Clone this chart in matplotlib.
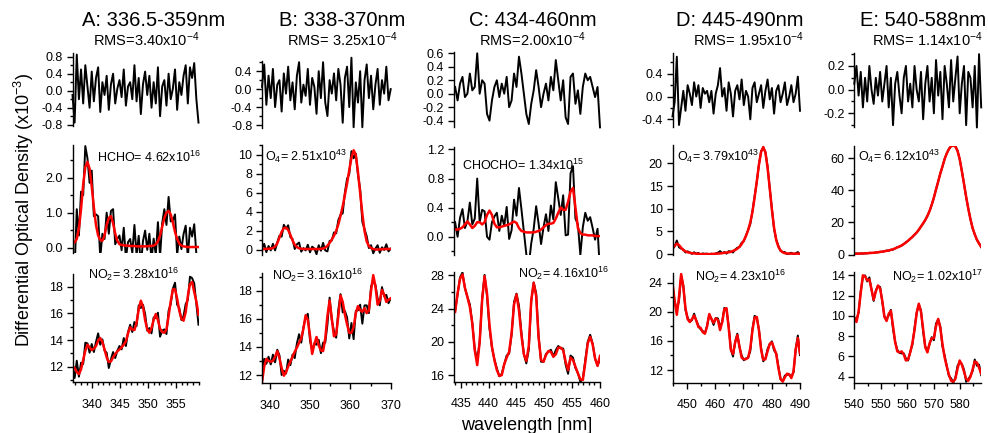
import numpy as np
import matplotlib
matplotlib.use("Agg")
import matplotlib.pyplot as plt
from matplotlib.ticker import MultipleLocator, FormatStrFormatter, NullLocator

plt.rcParams['font.family'] = ['Liberation Sans', 'DejaVu Sans']
plt.rcParams['mathtext.fontset'] = 'custom'
plt.rcParams['mathtext.rm'] = 'Liberation Sans'
plt.rcParams['mathtext.it'] = 'Liberation Sans:italic'
plt.rcParams['mathtext.bf'] = 'Liberation Sans:bold'
plt.rcParams['axes.unicode_minus'] = False

# ---- fit windows (nm) ----
wl_a = np.linspace(336.5, 359.0, 60)
wl_b = np.linspace(338.0, 370.0, 60)
wl_c = np.linspace(434.0, 460.0, 60)
wl_d = np.linspace(445.0, 490.0, 60)
wl_e = np.linspace(540.0, 588.0, 60)

# ---- residuals (x1e-3) ----
resid_a = np.array([
    -0.10, -0.75, 0.85, -0.20, 0.50, -0.30, 0.60, 0.10, -0.40, 0.45,
    -0.25, 0.30, 0.55, -0.50, 0.20, -0.10, 0.35, -0.45, 0.15, 0.40,
    -0.30, 0.05, 0.25, -0.15, 0.50, -0.35, 0.10, 0.20, -0.20, 0.60,
    -0.25, 0.30, -0.55, 0.15, 0.45, -0.10, 0.35, -0.40, 0.20, -0.30,
    0.55, -0.60, 0.10, 0.25, -0.35, 0.40, -0.20, 0.05, 0.50, -0.45,
    0.20, -0.10, 0.35, 0.60, -0.30, 0.55, 0.30, 0.65, -0.20, -0.75])
resid_b = np.array([
    0.05, 0.55, -0.35, 0.30, -0.20, 0.45, -0.40, 0.10, 0.20, -0.50,
    0.35, -0.10, 0.50, -0.25, 0.15, -0.45, 0.30, 0.60, -0.30, 0.10,
    -0.15, 0.45, -0.35, 0.25, 0.05, -0.55, 0.40, -0.20, 0.60, -0.30,
    -0.60, 0.20, -0.10, 0.35, -0.25, 0.45, 0.10, -0.75, 0.25, 0.50,
    -0.40, 0.70, -0.85, 0.15, -0.30, 0.40, -0.85, 0.20, 0.55, -0.20,
    0.30, -0.45, 0.10, 0.45, -0.35, 0.20, -0.10, 0.50, -0.25, 0.00])
resid_c = np.array([
    0.10, -0.10, 0.15, 0.25, -0.05, 0.00, 0.30, 0.05, 0.10, 0.60,
    0.00, 0.20, 0.15, -0.30, -0.40, -0.10, 0.10, 0.20, -0.05, 0.15,
    0.00, 0.25, -0.20, -0.10, 0.30, 0.10, 0.55, 0.30, 0.00, -0.30,
    -0.45, -0.15, 0.05, 0.35, 0.10, -0.20, 0.00, 0.15, -0.10, 0.25,
    0.05, 0.50, 0.20, -0.10, 0.20, -0.35, -0.45, 0.25, 0.30, -0.15,
    0.05, -0.30, 0.10, 0.30, 0.20, 0.25, 0.10, -0.05, 0.10, -0.50])
resid_d = np.array([
    -0.35, -0.10, 0.70, -0.50, -0.20, 0.10, -0.25, 0.20, 0.05, -0.15,
    0.25, 0.00, 0.20, -0.20, 0.15, 0.05, 0.10, -0.10, 0.10, -0.30,
    0.05, 0.20, 0.50, 0.00, 0.15, -0.25, 0.25, 0.05, -0.35, 0.10,
    0.20, -0.05, 0.30, -0.15, 0.10, 0.00, -0.40, 0.15, 0.25, -0.10,
    0.05, 0.20, -0.20, 0.10, 0.30, -0.05, 0.15, -0.30, 0.10, 0.20,
    -0.10, 0.05, 0.25, -0.15, 0.00, 0.20, -0.10, 0.05, 0.35, -0.25])
resid_e = np.array([
    0.05, 0.20, -0.05, 0.15, -0.15, 0.10, -0.10, 0.20, 0.00, -0.12,
    0.10, -0.05, 0.15, -0.10, 0.05, 0.20, -0.15, 0.10, -0.30, 0.05,
    0.15, -0.05, -0.20, 0.10, 0.20, -0.10, 0.05, -0.15, 0.20, 0.00,
    -0.10, 0.15, -0.25, 0.05, 0.20, -0.10, 0.10, -0.20, 0.25, -0.05,
    0.15, -0.25, 0.20, 0.05, -0.15, 0.25, -0.10, 0.10, 0.28, -0.20,
    0.05, 0.20, -0.30, 0.15, 0.10, -0.15, 0.20, -0.32, 0.30, -0.15])

# ---- fitted absorber contributions (x1e-3) ----
fit_a_hcho = np.array([
    0.12, 0.15, 0.25, 0.55, 1.10, 1.80, 2.30, 2.45, 2.25, 1.75,
    1.15, 0.65, 0.35, 0.22, 0.20, 0.35, 0.65, 0.85, 0.90, 0.70,
    0.40, 0.20, 0.10, 0.08, 0.07, 0.06, 0.06, 0.05, 0.05, 0.05,
    0.04, 0.04, 0.04, 0.04, 0.04, 0.04, 0.05, 0.05, 0.06, 0.10,
    0.18, 0.35, 0.60, 0.85, 1.00, 1.05, 0.95, 0.72, 0.45, 0.25,
    0.12, 0.06, 0.04, 0.03, 0.02, 0.02, 0.02, 0.02, 0.02, 0.02])
fit_a_no2 = np.array([
    12.05, 11.90, 11.60, 11.45, 11.80, 12.50, 13.20, 13.65, 13.45, 13.25,
    13.35, 13.55, 13.95, 14.15, 13.85, 13.30, 12.70, 12.35, 12.40, 12.70,
    12.95, 13.15, 13.30, 13.45, 13.65, 13.90, 14.50, 14.95, 14.80, 14.75,
    15.30, 16.30, 16.95, 16.50, 15.50, 14.80, 14.55, 14.90, 15.50, 15.95,
    15.50, 14.85, 14.60, 14.55, 14.80, 15.80, 16.90, 17.80, 17.80, 17.10,
    16.20, 15.60, 15.45, 16.10, 17.30, 18.20, 18.35, 17.60, 16.90, 15.90])
fit_b_o4 = np.array([
    0.10, 0.10, 0.12, 0.12, 0.15, 0.20, 0.35, 0.70, 1.30, 1.90,
    2.30, 2.35, 2.10, 1.60, 1.00, 0.55, 0.30, 0.18, 0.12, 0.10,
    0.10, 0.10, 0.10, 0.10, 0.10, 0.10, 0.10, 0.12, 0.15, 0.25,
    0.45, 0.75, 1.10, 1.50, 2.00, 2.70, 3.60, 4.60, 5.80, 7.00,
    8.40, 9.70, 10.50, 10.00, 8.20, 6.00, 3.80, 2.00, 0.90, 0.40,
    0.20, 0.10, 0.05, 0.05, 0.05, 0.08, 0.10, 0.10, 0.10, 0.12])
fit_b_no2 = np.array([
    11.50, 12.60, 13.15, 13.00, 12.95, 13.00, 13.30, 13.70, 13.20, 12.50,
    11.95, 12.20, 12.60, 12.95, 13.30, 13.65, 13.95, 14.30, 14.60, 15.30,
    16.25, 15.90, 14.80, 13.50, 14.20, 14.70, 14.10, 13.75, 13.70, 14.60,
    16.20, 17.30, 16.00, 14.75, 14.90, 16.20, 17.65, 17.20, 16.30, 15.60,
    15.00, 15.00, 15.40, 16.40, 16.90, 16.60, 16.50, 16.75, 16.40, 16.60,
    18.00, 19.10, 18.30, 17.00, 17.30, 18.05, 17.70, 17.20, 17.35, 17.45])
fit_c_glyoxal = np.array([
    0.10, 0.10, 0.11, 0.13, 0.17, 0.21, 0.17, 0.12, 0.15, 0.20,
    0.20, 0.17, 0.20, 0.30, 0.36, 0.30, 0.18, 0.13, 0.13, 0.14,
    0.15, 0.16, 0.17, 0.19, 0.21, 0.19, 0.12, 0.08, 0.07, 0.06,
    0.06, 0.06, 0.06, 0.07, 0.08, 0.10, 0.13, 0.16, 0.18, 0.18,
    0.19, 0.25, 0.33, 0.40, 0.37, 0.37, 0.48, 0.62, 0.67, 0.40,
    0.12, 0.05, 0.03, 0.03, 0.02, 0.02, 0.02, 0.01, 0.01, 0.01])
fit_c_no2 = np.array([
    23.6, 25.8, 27.6, 28.1, 26.5, 25.4, 24.2, 22.2, 19.0, 17.2,
    20.0, 25.0, 27.9, 25.8, 22.0, 19.4, 17.8, 16.6, 15.9, 16.0,
    17.3, 18.1, 18.8, 21.0, 24.5, 25.7, 23.8, 20.8, 18.5, 17.7,
    19.5, 25.0, 27.1, 25.5, 20.5, 17.8, 17.6, 18.4, 18.9, 18.8,
    18.2, 18.5, 19.3, 19.3, 19.0, 17.6, 16.6, 18.1, 17.8, 17.0,
    16.2, 15.5, 15.4, 17.5, 19.8, 20.6, 19.7, 18.0, 17.1, 18.3])
fit_d_o4 = np.array([
    1.4, 1.8, 2.3, 2.0, 1.4, 0.9, 0.6, 0.4, 0.3, 0.2,
    0.15, 0.1, 0.05, 0.0, 0.0, 0.0, 0.0, 0.0, 0.0, 0.05,
    0.1, 0.1, 0.15, 0.2, 0.3, 0.35, 0.4, 0.5, 0.7, 0.9,
    1.2, 1.6, 2.2, 3.0, 4.0, 5.3, 7.0, 9.3, 12.5, 16.0,
    19.7, 22.5, 23.6, 22.4, 19.0, 14.5, 9.8, 5.8, 3.1, 1.6,
    0.8, 0.4, 0.2, 0.15, 0.1, 0.1, 0.1, 0.1, 0.1, 0.1])
fit_d_no2 = np.array([
    24.0, 21.5, 19.6, 22.0, 25.2, 23.5, 20.5, 19.0, 18.6, 19.0,
    19.5, 18.8, 17.9, 17.8, 17.2, 17.0, 18.0, 19.7, 19.0, 18.5,
    19.1, 18.9, 17.5, 18.6, 20.4, 20.5, 17.8, 14.8, 14.2, 15.8,
    16.8, 15.2, 13.7, 13.5, 13.5, 13.7, 15.0, 17.5, 19.2, 19.3,
    17.5, 14.8, 13.4, 13.5, 14.6, 15.6, 15.8, 15.0, 14.2, 12.3,
    10.8, 10.4, 11.0, 11.5, 11.4, 10.9, 11.8, 14.8, 16.4, 14.3])
fit_e_o4 = np.array([
    0.5, 0.5, 0.55, 0.6, 0.65, 0.7, 0.8, 0.9, 1.0, 1.1,
    1.25, 1.4, 1.6, 1.8, 2.0, 2.3, 2.5, 2.9, 3.3, 3.8,
    4.4, 5.0, 5.7, 6.5, 7.5, 8.6, 9.8, 11.0, 12.3, 13.7,
    15.5, 17.4, 19.5, 21.5, 24.0, 27.2, 31.0, 35.5, 40.5, 45.5,
    50.5, 55.0, 59.5, 63.0, 65.8, 67.4, 67.9, 67.3, 64.5, 59.5,
    52.0, 44.0, 36.0, 28.5, 22.0, 16.5, 12.5, 9.3, 6.8, 4.8])
fit_e_no2 = np.array([
    9.8, 9.4, 10.4, 12.3, 14.0, 13.9, 13.5, 13.6, 12.6, 11.6,
    12.4, 13.0, 12.7, 11.5, 9.9, 9.5, 10.2, 10.5, 9.0, 7.4,
    6.5, 6.4, 6.5, 6.2, 5.6, 5.7, 6.4, 7.3, 8.6, 10.3,
    11.2, 10.4, 8.7, 6.9, 6.4, 7.3, 7.8, 7.8, 9.0, 9.7,
    8.8, 7.2, 5.9, 5.0, 4.2, 3.6, 3.5, 3.8, 4.8, 5.6,
    5.2, 4.5, 3.8, 3.6, 4.0, 4.7, 5.5, 5.4, 4.9, 4.3])

titles = ["A: 336.5-359nm", "B: 338-370nm", "C: 434-460nm",
          "D: 445-490nm", "E: 540-588nm"]
rms_labels = [r"RMS=3.40x10$^{-4}$", r"RMS= 3.25x10$^{-4}$", r"RMS=2.00x10$^{-4}$",
              r"RMS= 1.95x10$^{-4}$", r"RMS= 1.14x10$^{-4}$"]
species_labels = [
    [r"HCHO= 4.62x10$^{16}$", r"NO$_2$= 3.28x10$^{16}$"],
    [r"O$_4$= 2.51x10$^{43}$", r"NO$_2$= 3.16x10$^{16}$"],
    [r"CHOCHO= 1.34x10$^{15}$", r"NO$_2$= 4.16x10$^{16}$"],
    [r"O$_4$= 3.79x10$^{43}$", r"NO$_2$= 4.23x10$^{16}$"],
    [r"O$_4$= 6.12x10$^{43}$", r"NO$_2$= 1.02x10$^{17}$"],
]

columns = [
    (wl_a, resid_a, [fit_a_hcho, fit_a_no2]),
    (wl_b, resid_b, [fit_b_o4, fit_b_no2]),
    (wl_c, resid_c, [fit_c_glyoxal, fit_c_no2]),
    (wl_d, resid_d, [fit_d_o4, fit_d_no2]),
    (wl_e, resid_e, [fit_e_o4, fit_e_no2]),
]

# ---- layout in pixels: x-extent, row (top, bottom), limits, ticks ----
W, H = 988, 433
col_x = [(72.5, 198.5), (262, 390.7), (454, 600), (672.5, 800), (854.3, 981.2)]
col_xlim = [(336.5, 359), (338, 370), (433.8, 460), (445, 490), (540, 588)]
col_xticks = [(5, 1), (10, 5), (5, 1), (10, 5), (10, 5)]
row_y = [
    [(53.3, 126), (145, 253), (274.3, 382.3)],
    [(61.3, 127.7), (145, 255), (273.3, 383.3)],
    [(51.7, 126.7), (146.7, 255), (271.7, 381.7)],
    [(53.3, 126.7), (145, 255), (273.3, 382.7)],
    [(53.3, 126.7), (145.7, 255), (271.7, 382.7)],
]
row_ylim = [
    [(-0.83, 0.88), (-0.15, 2.93), (10.83, 18.93)],
    [(-0.86, 0.62), (-0.53, 11.05), (11.41, 19.23)],
    [(-0.49, 0.624), (-0.25, 1.237), (15.2, 28.44)],
    [(-0.53, 0.76), (-0.2, 24.04), (10.26, 25.3)],
    [(-0.313, 0.307), (-0.3, 67.8), (3.41, 14.36)],
]
# (major, minor or None, label format)
row_yticks = [
    [(0.4, 0.2, '%.1f'), (1.0, 0.5, '%.1f'), (2, 1, '%d')],
    [(0.4, 0.2, '%.1f'), (2, 1, '%d'), (2, 1, '%d')],
    [(0.2, None, '%.1f'), (0.4, 0.2, '%.1f'), (4, 2, '%d')],
    [(0.4, 0.2, '%.1f'), (5, None, '%d'), (4, 2, '%d')],
    [(0.2, 0.1, '%.1f'), (20, 10, '%d'), (2, None, '%d')],
]
title_x = [154, 342, 533, 740, 923]
rms_x = [146, 342, 532, 748, 927]
label_pos = [
    [(97, 162), (88, 279)],
    [(265, 161), (272, 280)],
    [(462, 170), (518, 278)],
    [(677, 161), (695, 281)],
    [(858, 161), (892, 281)],
]

fig = plt.figure(figsize=(W / 100, H / 100), dpi=100)


def add_px_axes(x0, x1, y0, y1):
    return fig.add_axes([x0 / W, 1 - y1 / H, (x1 - x0) / W, (y1 - y0) / H])


for c, (wl, resid, fits) in enumerate(columns):
    x0, x1 = col_x[c]
    for r in range(3):
        y0, y1 = row_y[c][r]
        ax = add_px_axes(x0, x1, y0, y1)
        ax.patch.set_alpha(0)
        if r == 0:
            ax.plot(wl, resid, color='black', lw=1.4, clip_on=False)
        else:
            fit = fits[r - 1]
            measured = fit + resid  # measured optical density = fit + residual
            ax.plot(wl, measured, color='black', lw=1.4)
            ax.plot(wl, fit, color='#ff0000', lw=1.8)
            tx, ty = label_pos[c][r - 1]
            fig.text(tx / W, 1 - ty / H, species_labels[c][r - 1],
                     fontsize=9, ha='left', va='baseline')
        ax.set_xlim(*col_xlim[c])
        ax.set_ylim(*row_ylim[c][r])
        for s in ('top', 'right'):
            ax.spines[s].set_visible(False)
        ax.spines['left'].set_linewidth(1)
        major, minor, fmt = row_yticks[c][r]
        ax.yaxis.set_major_locator(MultipleLocator(major))
        ax.yaxis.set_minor_locator(MultipleLocator(minor) if minor else NullLocator())
        ax.yaxis.set_major_formatter(FormatStrFormatter(fmt))
        ax.tick_params(axis='y', which='major', direction='out', length=4,
                       width=1, pad=3, labelsize=9)
        ax.tick_params(axis='y', which='minor', direction='out', length=2, width=1)
        if r == 2:
            ax.spines['bottom'].set_linewidth(1)
            xmaj, xmin = col_xticks[c]
            ax.xaxis.set_major_locator(MultipleLocator(xmaj))
            ax.xaxis.set_minor_locator(MultipleLocator(xmin))
            ax.tick_params(axis='x', which='major', direction='out', length=4,
                           width=1, pad=8, labelsize=9)
            ax.tick_params(axis='x', which='minor', direction='out', length=2, width=1)
        else:
            ax.spines['bottom'].set_visible(False)
            ax.tick_params(axis='x', which='both', bottom=False, labelbottom=False)

    fig.text(title_x[c] / W, 1 - 26 / H, titles[c], fontsize=14.5,
             ha='center', va='baseline')
    fig.text(rms_x[c] / W, 1 - 46 / H, rms_labels[c], fontsize=10.5,
             ha='center', va='baseline')

fig.text(24 / W, 1 - 210 / H, r"Differential Optical Density (x10$^{-3}$)",
         rotation=90, fontsize=13, ha='center', va='center')
fig.text(527 / W, 1 - 426 / H, "wavelength [nm]", fontsize=13,
         ha='center', va='center')

fig.savefig("out.png", dpi=100)
